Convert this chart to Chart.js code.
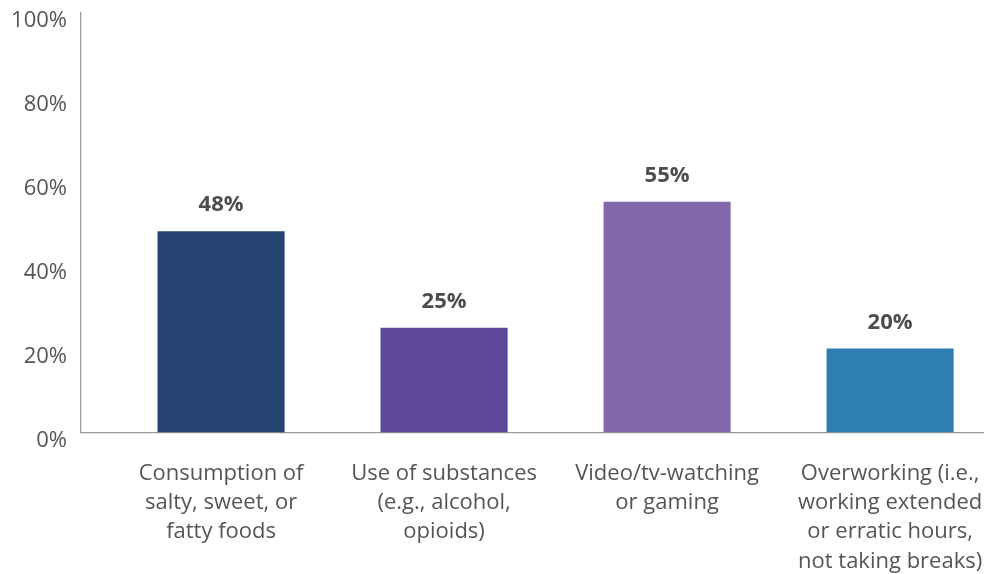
<!DOCTYPE html>
<html>
<head>
<meta charset="utf-8">
<script src="https://cdn.jsdelivr.net/npm/chart.js@4"></script>
<style>
  html, body { margin: 0; padding: 0; background: #fff; }
  #wrap { width: 984px; height: 574px; }
</style>
</head>
<body>
<div id="wrap"><canvas id="chart"></canvas></div>
<script>
// categories, split the way they wrap under the axis
const categories = [
  ['Consumption of', 'salty, sweet, or', 'fatty foods'],
  ['Use of substances', '(e.g., alcohol,', 'opioids)'],
  ['Video/tv-watching', 'or gaming'],
  ['Overworking (i.e.,', 'working extended', 'or erratic hours,', 'not taking breaks)']
];
const values = [48, 25, 55, 20];
const barColors = ['#264372', '#5e479b', '#8268ab', '#2f7eb2'];
const yTicks = [0, 20, 40, 60, 80, 100];

const FONT = '"Open Sans", Lato, sans-serif';
const TEXT = '#555555';

// value printed above each bar
const valueLabels = {
  id: 'valueLabels',
  afterDatasetsDraw(chart) {
    const ctx = chart.ctx;
    const meta = chart.getDatasetMeta(0);
    ctx.save();
    ctx.font = 'bold 22px ' + FONT;
    ctx.fillStyle = '#4d4d4d';
    ctx.textAlign = 'center';
    ctx.textBaseline = 'middle';
    meta.data.forEach((bar, i) => {
      ctx.fillText(values[i] + '%', bar.x, bar.y - 26);
    });
    ctx.restore();
  }
};

new Chart(document.getElementById('chart'), {
  type: 'bar',
  data: {
    datasets: [{
      data: values.map((v, i) => ({ x: i, y: v })),
      backgroundColor: barColors,
      categoryPercentage: 1,
      barPercentage: 0.57
    }]
  },
  options: {
    responsive: true,
    maintainAspectRatio: false,
    animation: false,
    layout: { padding: 0 },
    plugins: { legend: { display: false }, tooltip: { enabled: false } },
    scales: {
      x: {
        type: 'linear',
        offset: false,
        min: -0.628,
        max: 3.421,
        grid: { display: false, drawTicks: false },
        border: { color: '#9a9a9a', width: 1.3 },
        afterBuildTicks: (scale) => {
          scale.ticks = categories.map((_, i) => ({ value: i }));
        },
        afterFit: (scale) => {
          scale.height = 141.5;
          scale.paddingLeft = 0;
          scale.paddingRight = 0;
        },
        ticks: {
          autoSkip: false,
          maxRotation: 0,
          padding: 26,
          color: TEXT,
          font: { family: FONT, size: 22, lineHeight: 1.34 },
          callback: (v) => categories[v]
        }
      },
      y: {
        min: 0,
        max: 100,
        grid: { display: false, drawTicks: false },
        border: { color: '#9a9a9a', width: 1.3 },
        afterBuildTicks: (scale) => {
          scale.ticks = yTicks.map(v => ({ value: v }));
        },
        afterFit: (scale) => {
          scale.width = 81;
          scale.paddingTop = 13;
        },
        ticks: {
          padding: 14,
          labelOffset: 8,
          color: TEXT,
          font: { family: FONT, size: 22 },
          callback: (v) => v + '%'
        }
      }
    }
  },
  plugins: [valueLabels]
});
</script>
</body>
</html>
